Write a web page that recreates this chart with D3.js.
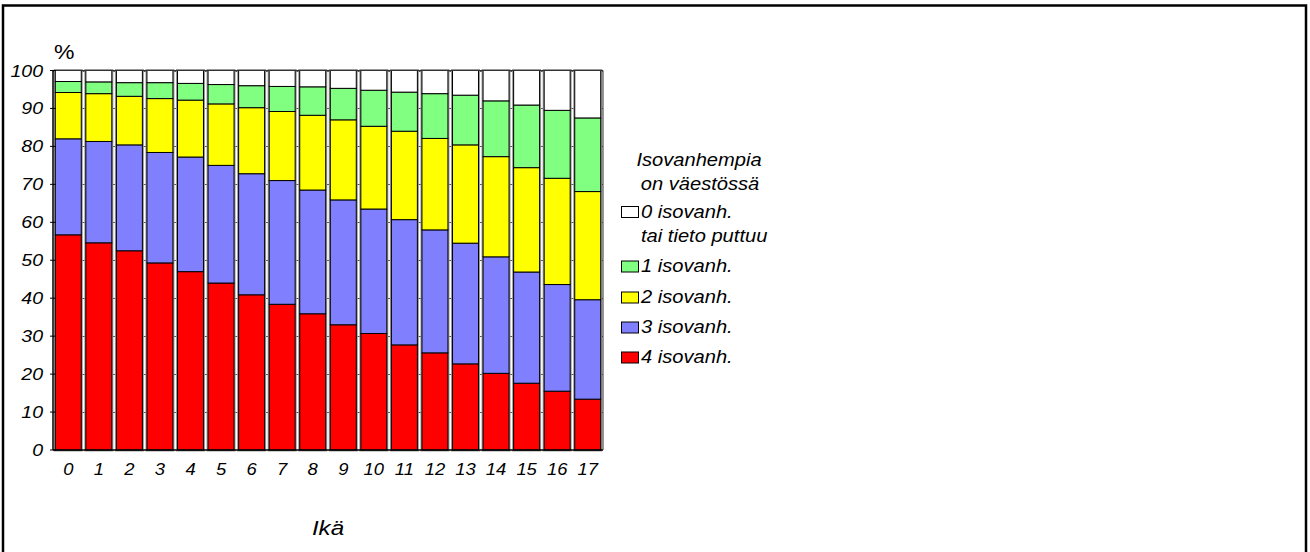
<!DOCTYPE html>
<html>
<head>
<meta charset="utf-8">
<script src="https://cdn.jsdelivr.net/npm/d3@7"></script>
<style>
  body { margin: 0; background: #fff; }
  svg text { font-family: "Liberation Sans", Arial, sans-serif; font-style: italic; fill: #000; }
</style>
</head>
<body>
<div id="chart"></div>
<script>
// Data (percent of children by age)
var ages = ["0","1","2","3","4","5","6","7","8","9","10","11","12","13","14","15","16","17"];
var iso4 = [56.7, 54.6, 52.5, 49.3, 47.0, 44.0, 40.9, 38.4, 35.9, 33.0, 30.7, 27.7, 25.6, 22.7, 20.2, 17.6, 15.5, 13.4];
var iso3 = [25.3, 26.7, 27.9, 29.1, 30.2, 31.0, 31.9, 32.6, 32.6, 32.9, 32.8, 33.0, 32.4, 31.8, 30.7, 29.3, 28.1, 26.2];
var iso2 = [12.2, 12.6, 12.8, 14.2, 15.0, 16.2, 17.4, 18.2, 19.7, 21.1, 21.8, 23.3, 24.1, 25.9, 26.4, 27.5, 28.0, 28.5];
var iso1 = [2.9, 3.1, 3.6, 4.2, 4.4, 5.1, 5.8, 6.6, 7.5, 8.3, 9.5, 10.3, 11.8, 13.1, 14.7, 16.5, 17.9, 19.4];
var iso0 = [2.9, 3.0, 3.2, 3.2, 3.4, 3.7, 4.0, 4.2, 4.3, 4.7, 5.2, 5.7, 6.1, 6.5, 8.0, 9.1, 10.5, 12.5];
var yTicks = [0, 10, 20, 30, 40, 50, 60, 70, 80, 90, 100];

var keys = ["iso4", "iso3", "iso2", "iso1", "iso0"];
var colors = { iso4: "#ff0000", iso3: "#8080ff", iso2: "#ffff00", iso1: "#80ff80", iso0: "#ffffff" };
var legendItems = [
  { key: "iso0", label: ["0 isovanh.", "tai tieto puttuu"] },
  { key: "iso1", label: ["1 isovanh."] },
  { key: "iso2", label: ["2 isovanh."] },
  { key: "iso3", label: ["3 isovanh."] },
  { key: "iso4", label: ["4 isovanh."] }
];

var width = 1310, height = 552;
var sx = 1.15; // text in the picture is a bit wide

var svg = d3.select("#chart").append("svg")
  .attr("width", width)
  .attr("height", height);

// outer frame (bottom edge falls outside the picture)
svg.append("rect")
  .attr("x", 3).attr("y", 5.5)
  .attr("width", 1303).attr("height", 640)
  .attr("fill", "none")
  .attr("stroke", "#000")
  .attr("stroke-width", 2.5);

var table = ages.map(function(a, i) {
  return { age: a, iso4: iso4[i], iso3: iso3[i], iso2: iso2[i], iso1: iso1[i], iso0: iso0[i] };
});
var series = d3.stack().keys(keys)(table);

var x = d3.scaleBand()
  .domain(ages)
  .range([53, 603])
  .paddingInner(0.15)
  .paddingOuter(0.075);

var y = d3.scaleLinear()
  .domain([0, 100])
  .range([450, 70.5]);

function stretchText(g, tx, ty) {
  return g.append("text").attr("transform", "translate(" + tx + "," + ty + ") scale(" + sx + ",1)");
}

// gridlines behind bars
svg.append("g")
  .selectAll("line")
  .data(yTicks.slice(1))
  .enter().append("line")
  .attr("x1", 53).attr("x2", 603)
  .attr("y1", function(d) { return Math.round(y(d)) + 0.5; })
  .attr("y2", function(d) { return Math.round(y(d)) + 0.5; })
  .attr("stroke", "#555")
  .attr("stroke-width", 1);

// grey halo round each column
svg.append("g")
  .selectAll("rect")
  .data(ages)
  .enter().append("rect")
  .attr("x", function(d) { return x(d); })
  .attr("y", y(100))
  .attr("width", x.bandwidth())
  .attr("height", y(0) - y(100))
  .attr("fill", "#fff")
  .attr("stroke", "#999")
  .attr("stroke-width", 3);

// stacked segments
svg.append("g")
  .selectAll("g")
  .data(series)
  .enter().append("g")
  .attr("fill", function(d) { return colors[d.key]; })
  .selectAll("rect")
  .data(function(d) { return d; })
  .enter().append("rect")
  .attr("x", function(d) { return x(d.data.age); })
  .attr("y", function(d) { return y(d[1]); })
  .attr("width", x.bandwidth())
  .attr("height", function(d) { return y(d[0]) - y(d[1]); })
  .attr("stroke", "#000")
  .attr("stroke-width", 1);

// plot frame top/right
svg.append("path")
  .attr("d", "M53," + y(100) + "H603V" + y(0))
  .attr("fill", "none")
  .attr("stroke", "#333")
  .attr("stroke-width", 1);

// y axis
var yAxis = svg.append("g");
yAxis.append("line")
  .attr("x1", 53).attr("x2", 53)
  .attr("y1", y(100)).attr("y2", y(0))
  .attr("stroke", "#000").attr("stroke-width", 1.5);
yAxis.selectAll(".tick")
  .data(yTicks)
  .enter().append("line")
  .attr("x1", 50).attr("x2", 56)
  .attr("y1", function(d) { return y(d); })
  .attr("y2", function(d) { return y(d); })
  .attr("stroke", "#000");
yTicks.forEach(function(t) {
  stretchText(yAxis, 43, y(t) + 6)
    .attr("text-anchor", "end")
    .attr("font-size", 17)
    .text(t);
});
stretchText(svg, 54, 59)
  .attr("font-size", 20)
  .style("font-style", "normal")
  .text("%");

// x axis
var xAxis = svg.append("g");
xAxis.append("line")
  .attr("x1", 53).attr("x2", 603)
  .attr("y1", y(0)).attr("y2", y(0))
  .attr("stroke", "#000").attr("stroke-width", 1.5);
ages.forEach(function(a) {
  stretchText(xAxis, x(a) + x.bandwidth() / 2, 475)
    .attr("text-anchor", "middle")
    .attr("font-size", 16)
    .text(a);
});
stretchText(svg, 328, 535)
  .attr("text-anchor", "middle")
  .attr("font-size", 21)
  .text("Ikä");

// legend
var legend = svg.append("g");
stretchText(legend, 699, 166)
  .attr("text-anchor", "middle")
  .attr("font-size", 17.5)
  .text("Isovanhempia");
stretchText(legend, 700, 190)
  .attr("text-anchor", "middle")
  .attr("font-size", 17.5)
  .text("on väestössä");

var rowY = { iso0: 206.5, iso1: 261, iso2: 292, iso3: 322, iso4: 352 };
legendItems.forEach(function(item) {
  var ly = rowY[item.key];
  legend.append("rect")
    .attr("x", 621.5).attr("y", ly)
    .attr("width", 17).attr("height", 11)
    .attr("fill", colors[item.key])
    .attr("stroke", "#000")
    .attr("stroke-width", 1);
  item.label.forEach(function(line, j) {
    stretchText(legend, 641, ly + 11 + j * 24.5)
      .attr("font-size", 17.5)
      .text(line);
  });
});
</script>
</body>
</html>
